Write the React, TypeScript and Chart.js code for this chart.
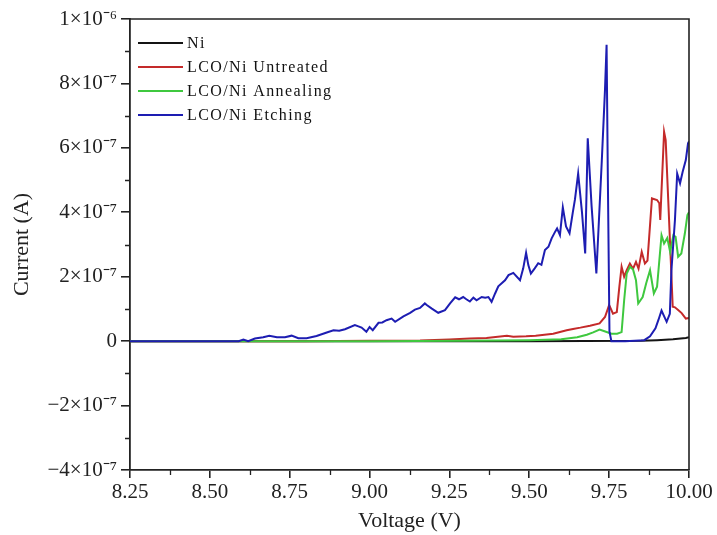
import React, { useEffect, useRef } from 'react';
import { Chart, registerables } from 'chart.js';

Chart.register(...registerables);

// ---- data (current in units of 1e-7 A) ----
const seriesNames = ['Ni', 'LCO/Ni Untreated', 'LCO/Ni Annealing', 'LCO/Ni Etching'];
const seriesColors = ['#141414', '#c42a2a', '#3fc83f', '#1d1db2'];
const drawOrder = [3, 2, 1, 0];

const niVoltage = [8.25, 9.5, 9.85, 9.9, 9.95, 9.99, 10.0];
const niCurrent = [0, 0, 0.01, 0.03, 0.06, 0.1, 0.12];

const untreatedVoltage = [8.25, 8.8, 9.0, 9.158, 9.25, 9.314, 9.366, 9.43, 9.45, 9.49, 9.52, 9.575, 9.617, 9.637, 9.66, 9.69, 9.72, 9.737, 9.75, 9.762, 9.774, 9.782, 9.789, 9.797, 9.805, 9.815, 9.825, 9.834, 9.842, 9.852, 9.862, 9.87, 9.884, 9.9, 9.907, 9.91, 9.922, 9.927, 9.935, 9.943, 9.949, 9.956, 9.966, 9.977, 9.99, 10.0];
const untreatedCurrent = [0, 0, 0.01, 0.02, 0.05, 0.08, 0.1, 0.17, 0.14, 0.15, 0.17, 0.23, 0.34, 0.38, 0.42, 0.48, 0.55, 0.75, 1.12, 0.85, 0.9, 1.69, 2.31, 2.0, 2.2, 2.41, 2.25, 2.46, 2.25, 2.77, 2.41, 2.5, 4.43, 4.38, 4.28, 3.76, 6.5, 6.24, 4.38, 2.5, 1.07, 1.05, 0.97, 0.87, 0.7, 0.72];

const annealingVoltage = [8.25, 9.0, 9.3, 9.5, 9.6, 9.65, 9.68, 9.7, 9.72, 9.74, 9.757, 9.775, 9.789, 9.797, 9.805, 9.815, 9.825, 9.834, 9.841, 9.855, 9.866, 9.878, 9.89, 9.9, 9.914, 9.922, 9.932, 9.941, 9.951, 9.958, 9.966, 9.976, 9.987, 9.995, 10.0];
const annealingCurrent = [0, 0, 0.01, 0.03, 0.06, 0.12, 0.2, 0.27, 0.36, 0.29, 0.23, 0.23, 0.28, 1.27, 2.1, 2.31, 2.22, 1.89, 1.17, 1.37, 1.8, 2.2, 1.48, 1.69, 3.29, 3.03, 3.2, 2.77, 3.29, 3.24, 2.62, 2.72, 3.34, 3.91, 4.0];

const etchingVoltage = [8.25, 8.59, 8.605, 8.62, 8.641, 8.667, 8.686, 8.71, 8.735, 8.756, 8.777, 8.803, 8.834, 8.866, 8.887, 8.905, 8.923, 8.954, 8.965, 8.975, 8.99, 9.0, 9.01, 9.028, 9.04, 9.053, 9.069, 9.08, 9.106, 9.127, 9.142, 9.158, 9.173, 9.179, 9.195, 9.215, 9.236, 9.252, 9.268, 9.28, 9.293, 9.303, 9.314, 9.325, 9.335, 9.351, 9.362, 9.372, 9.382, 9.393, 9.403, 9.424, 9.435, 9.45, 9.471, 9.481, 9.49, 9.497, 9.505, 9.517, 9.528, 9.538, 9.549, 9.56, 9.57, 9.581, 9.587, 9.596, 9.605, 9.615, 9.626, 9.636, 9.643, 9.653, 9.665, 9.675, 9.683, 9.695, 9.71, 9.727, 9.737, 9.742, 9.746, 9.751, 9.757, 9.8, 9.86, 9.878, 9.895, 9.904, 9.914, 9.93, 9.94, 9.945, 9.956, 9.963, 9.972, 9.98, 9.99, 9.997, 10.0];
const etchingCurrent = [0, 0, 0.05, 0, 0.08, 0.12, 0.17, 0.12, 0.12, 0.17, 0.09, 0.09, 0.16, 0.27, 0.34, 0.32, 0.37, 0.5, 0.46, 0.42, 0.29, 0.44, 0.34, 0.57, 0.58, 0.65, 0.7, 0.6, 0.77, 0.88, 0.98, 1.03, 1.17, 1.12, 1.01, 0.88, 0.96, 1.17, 1.36, 1.3, 1.37, 1.3, 1.23, 1.35, 1.27, 1.37, 1.35, 1.37, 1.22, 1.48, 1.7, 1.89, 2.05, 2.12, 1.89, 2.26, 2.74, 2.36, 2.1, 2.26, 2.42, 2.37, 2.83, 2.93, 3.19, 3.4, 3.5, 3.29, 4.15, 3.56, 3.35, 3.98, 4.4, 5.2, 4.0, 2.72, 6.3, 4.2, 2.1, 5.6, 7.8, 9.2, 5.0, 0.3, 0, 0, 0.03, 0.15, 0.4, 0.65, 0.95, 0.6, 0.85, 2.2, 3.76, 5.2, 4.9, 5.25, 5.62, 6.14, 6.2];

const xTickValues = [8.25, 8.5, 8.75, 9.0, 9.25, 9.5, 9.75, 10.0];
const xTickLabels = ['8.25', '8.50', '8.75', '9.00', '9.25', '9.50', '9.75', '10.00'];
const yTickValues = [-4, -2, 0, 2, 4, 6, 8, 10];
const yTickLabels = ['\u22124\u00d710\u207b\u2077', '\u22122\u00d710\u207b\u2077', '0', '2\u00d710\u207b\u2077', '4\u00d710\u207b\u2077', '6\u00d710\u207b\u2077', '8\u00d710\u207b\u2077', '1\u00d710\u207b\u2076'];

const xTitle = 'Voltage (V)';
const yTitle = 'Current (A)';

const FONT = '"Liberation Serif", "Times New Roman", serif';
const AXIS = '#222222';

const toPoints = (xs: number[], ys: number[]) => xs.map((x, i) => ({ x, y: ys[i] }));

const extrasPlugin = {
  id: 'extras',
  afterDraw(chart: any) {
    const { ctx, chartArea: a, scales } = chart;
    const xs = scales.x;
    const ys = scales.y;
    ctx.save();
    ctx.strokeStyle = AXIS;
    ctx.lineWidth = 1.6;
    // frame top & right
    ctx.beginPath();
    ctx.moveTo(a.left, a.top);
    ctx.lineTo(a.right, a.top);
    ctx.lineTo(a.right, a.bottom);
    ctx.stroke();
    // minor ticks
    ctx.lineWidth = 1.3;
    ctx.beginPath();
    for (let i = 0; i < xTickValues.length - 1; i++) {
      const px = Math.round(xs.getPixelForValue((xTickValues[i] + xTickValues[i + 1]) / 2)) + 0.5;
      ctx.moveTo(px, a.bottom);
      ctx.lineTo(px, a.bottom + 5);
    }
    for (let i = 0; i < yTickValues.length - 1; i++) {
      const py = Math.round(ys.getPixelForValue((yTickValues[i] + yTickValues[i + 1]) / 2)) + 0.5;
      ctx.moveTo(a.left, py);
      ctx.lineTo(a.left - 5, py);
    }
    ctx.stroke();
    // legend
    ctx.font = '16px ' + FONT;
    (ctx as any).letterSpacing = '1.4px';
    ctx.textBaseline = 'middle';
    ctx.textAlign = 'left';
    const ds = chart.data.datasets;
    for (let i = 0; i < ds.length; i++) {
      const y = a.top + 24 + i * 24;
      ctx.strokeStyle = ds[i].borderColor;
      ctx.lineWidth = 2;
      ctx.beginPath();
      ctx.moveTo(a.left + 8, y);
      ctx.lineTo(a.left + 53, y);
      ctx.stroke();
      ctx.fillStyle = '#111';
      ctx.fillText(ds[i].label, a.left + 57, y + 1);
    }
    ctx.restore();
  },
};

export default function App() {
  const ref = useRef<HTMLCanvasElement | null>(null);
  useEffect(() => {
    if (!ref.current) return;
    const datasets = [
      [niVoltage, niCurrent],
      [untreatedVoltage, untreatedCurrent],
      [annealingVoltage, annealingCurrent],
      [etchingVoltage, etchingCurrent],
    ].map(([xv, yv], i) => ({
      label: seriesNames[i],
      data: toPoints(xv as number[], yv as number[]),
      borderColor: seriesColors[i],
      backgroundColor: seriesColors[i],
      borderWidth: 2,
      pointRadius: 0,
      tension: 0,
      fill: false,
      order: drawOrder[i],
    }));
    const chart = new Chart(ref.current, {
      type: 'line',
      data: { datasets },
      plugins: [extrasPlugin],
      options: {
        responsive: false,
        animation: false,
        events: [],
        layout: { padding: { top: 19, right: 28, left: 0, bottom: 0 } },
        plugins: { legend: { display: false }, tooltip: { enabled: false } },
        scales: {
          x: {
            type: 'linear',
            min: 8.25,
            max: 10.0,
            afterFit: (s: any) => { s.height = 65; },
            afterBuildTicks: (s: any) => { s.ticks = xTickValues.map((v) => ({ value: v })); },
            ticks: {
              autoSkip: false,
              maxRotation: 0,
              padding: 2,
              color: AXIS,
              font: { family: FONT, size: 21 },
              callback: (v: any) => { const i = xTickValues.findIndex((t) => Math.abs(t - v) < 1e-6); return i >= 0 ? xTickLabels[i] : ''; },
            },
            grid: { drawOnChartArea: false, drawTicks: true, tickLength: 8, color: AXIS, lineWidth: 1.6 },
            border: { display: true, color: AXIS, width: 1.8 },
            title: { display: true, text: xTitle, color: AXIS, font: { family: FONT, size: 22 }, padding: { top: 0, bottom: 1 } },
          },
          y: {
            type: 'linear',
            min: -4,
            max: 10,
            afterFit: (s: any) => { s.width = 130; },
            afterBuildTicks: (s: any) => { s.ticks = yTickValues.map((v) => ({ value: v })); },
            ticks: {
              autoSkip: false,
              padding: 4,
              color: AXIS,
              font: { family: FONT, size: 21 },
              callback: (v: any) => { const i = yTickValues.findIndex((t) => Math.abs(t - v) < 1e-6); return i >= 0 ? yTickLabels[i] : ''; },
            },
            grid: { drawOnChartArea: false, drawTicks: true, tickLength: 9, color: AXIS, lineWidth: 1.6 },
            border: { display: true, color: AXIS, width: 1.8 },
            title: { display: true, text: yTitle, color: AXIS, font: { family: FONT, size: 22 }, padding: { top: 9, bottom: 0 } },
          },
        },
      },
    });
    return () => chart.destroy();
  }, []);
  return (
    <div style={{ position: 'fixed', left: 0, top: 0, width: 717, height: 535, background: '#fff' }}>
      <canvas ref={ref} width={717} height={535} />
    </div>
  );
}
